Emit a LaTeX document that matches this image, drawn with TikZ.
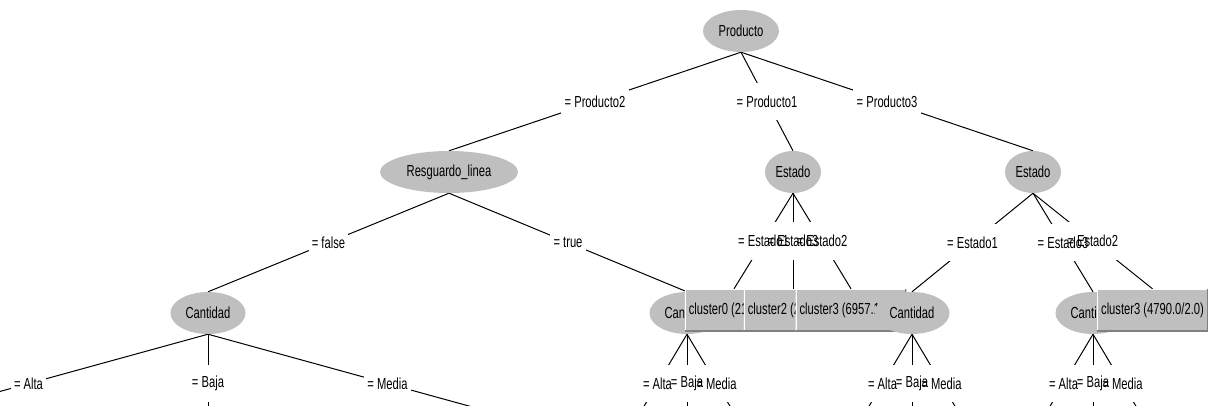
\documentclass[tikz,border=0pt]{standalone}
\usepackage{fontspec}
\setmainfont{Liberation Sans}[FakeStretch=0.70]
\usetikzlibrary{shapes.geometric}
\pgfdeclarelayer{edges}
\pgfdeclarelayer{boxes}
\pgfsetlayers{edges,boxes,main}
\begin{document}
\begin{tikzpicture}[
        x=1pt, y=-1pt,
        every node/.style={font=\fontsize{16}{19}\selectfont},
        attr/.style={ellipse, fill=black!25, inner sep=0pt, minimum height=42pt},
        leaf/.style={rectangle, fill=black!25, inner xsep=4pt, inner ysep=0pt, minimum height=42pt,
          path picture={
            \draw[white, line width=2pt] (path picture bounding box.south west)
              -- (path picture bounding box.north west) -- (path picture bounding box.north east);
            \draw[black!50, line width=2pt] (path picture bounding box.south west)
              -- (path picture bounding box.south east) -- (path picture bounding box.north east);
          }},
        branch/.style={black, line width=1pt},
        lbl/.style={inner xsep=3pt, inner ysep=0pt, minimum height=37pt}
      ]
      \useasboundingbox (0,0) rectangle (1209,405);
      \node[attr, minimum width=76pt] (pr) at (741,31) {Producto};
      \node[attr, minimum width=138pt] (rl) at (449,172) {Resguardo\_linea};
      \node[attr, minimum width=56pt] (e1) at (793,172) {Estado};
      \node[attr, minimum width=56pt] (e3) at (1033,172) {Estado};
      \node[attr, minimum width=75pt] (ca) at (208,313) {Cantidad};
      \node[attr, minimum width=75pt] (cb) at (687,313) {Cantidad};
      \node[leaf] (l0) at (734,310) {cluster0 (21.0/1.0)};
      \node[leaf] (l2) at (793,310) {cluster2 (26.0/1.0)};
      \node[leaf] (l3) at (851,310) {cluster3 (6957.1/9.0)};
      \node[attr, minimum width=75pt] (cc) at (912,313) {Cantidad};
      \node[attr, minimum width=75pt] (cd) at (1093,313) {Cantidad};
      \node[leaf] (l4) at (1152.5,310) {cluster3 (4790.0/2.0)};
      \foreach \c/\x in {ca/208, cb/687, cc/912, cd/1093} {
        \coordinate (\c1) at (\x-59,433);
        \coordinate (\c2) at (\x,433);
        \coordinate (\c3) at (\x+59,433);
      }
      \coordinate (ca1) at (-151,433);
      \coordinate (ca3) at (567,433);
      \foreach \a/\b/\t [count=\i] in {
          pr/rl/Producto2, pr/e1/Producto1, pr/e3/Producto3,
          rl/ca/false, rl/cb/true,
          e1/l0/Estado1, e1/l2/Estado3, e1/l3/Estado2,
          e3/cc/Estado1, e3/cd/Estado3, e3/l4/Estado2,
          ca/ca1/Alta, ca/ca2/Baja, ca/ca3/Media,
          cb/cb1/Alta, cb/cb2/Baja, cb/cb3/Media,
          cc/cc1/Alta, cc/cc2/Baja, cc/cc3/Media,
          cd/cd1/Alta, cd/cd2/Baja, cd/cd3/Media} {
        \begin{pgfonlayer}{edges}
          \draw[branch] (\a.south) -- (\b.north);
        \end{pgfonlayer}
        \path (\a.south) -- node[lbl] (t\i) {= \t} (\b.north);
        \begin{pgfonlayer}{boxes}
          \fill[white] (t\i.south west) rectangle (t\i.north east);
        \end{pgfonlayer}
      }
\end{tikzpicture}
\end{document}
